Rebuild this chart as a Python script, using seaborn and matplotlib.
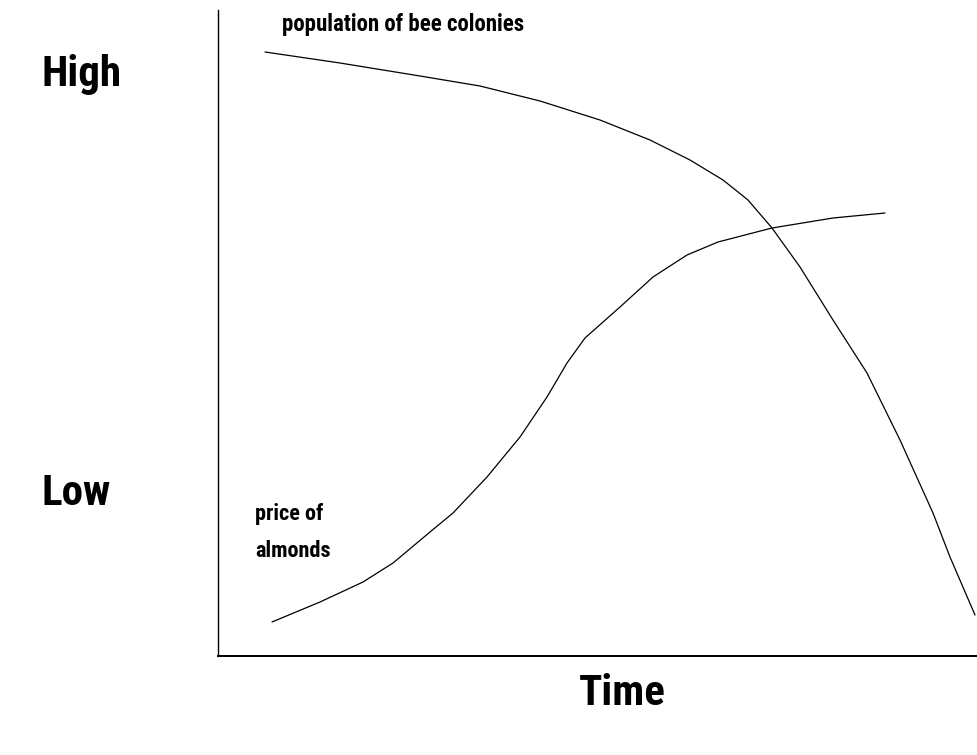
import matplotlib
matplotlib.use("Agg")
import matplotlib.pyplot as plt
from matplotlib import font_manager
import seaborn as sns
import pandas as pd

# ---- data (x = time, y = level) ----
bee_time = [47, 122, 202, 262, 322, 382, 432, 472, 505, 530, 554, 582, 615, 649, 682, 715, 732, 757]
bee_level = [604, 593, 580, 570, 555, 536, 516, 496, 476, 456, 428, 389, 336, 283, 216, 143, 99, 41]

almond_time = [54, 102, 145, 175, 212, 235, 269, 302, 329, 349, 367, 402, 435, 469, 500, 554, 615, 667]
almond_level = [34, 54, 74, 93, 124, 143, 179, 219, 259, 293, 318, 349, 379, 401, 414, 428, 438, 443]

series_labels = ["population of bee colonies", "price of\nalmonds"]
y_labels = ["High", "Low"]
x_label = "Time"

# ---- fonts ----
def pick_font(cands):
    for c in cands:
        try:
            font_manager.findfont(font_manager.FontProperties(family=c), fallback_to_default=False)
            return c
        except Exception:
            pass
    return "DejaVu Sans"

sns.set_style("white")
cond = pick_font(["Roboto Condensed", "Liberation Sans Narrow", "Open Sans Condensed", "Roboto", "Liberation Sans"])
plt.rcParams["font.family"] = [cond, "DejaVu Sans"]
plt.rcParams["text.color"] = "black"

df = pd.concat([
    pd.DataFrame({"time": bee_time, "level": bee_level, "series": "bee"}),
    pd.DataFrame({"time": almond_time, "level": almond_level, "series": "almond"}),
])

fig = plt.figure(figsize=(9.77, 7.55), dpi=100)
W, H = 977, 755
ax = fig.add_axes([218 / W, (H - 656) / H, (W - 218) / W, (656 - 10) / H])

sns.lineplot(data=df, x="time", y="level", units="series", estimator=None,
             sort=False, color="black", linewidth=0.9, ax=ax, legend=False)

ax.set_xlim(0, 759)
ax.set_ylim(0, 646)
ax.set_xticks([])
ax.set_yticks([])
ax.set_xlabel("")
ax.set_ylabel("")
for s in ["top", "right"]:
    ax.spines[s].set_visible(False)
for s in ["left", "bottom"]:
    ax.spines[s].set_color("black")
    ax.spines[s].set_linewidth(1.0)
ax.spines["bottom"].set_linewidth(1.4)

# series labels
fig.text(282 / W, 1 - 31 / H, series_labels[0], fontsize=16.5, fontweight="bold", ha="left", va="baseline")
fig.text(255 / W, 1 - 503 / H, series_labels[1], fontsize=16, fontweight="bold", ha="left", va="top",
         linespacing=1.9)

# axis words
fig.text(42 / W, 1 - 86 / H, y_labels[0], fontsize=31, fontweight="bold", ha="left", va="baseline")
fig.text(42 / W, 1 - 505 / H, y_labels[1], fontsize=31, fontweight="bold", ha="left", va="baseline")
fig.text(622 / W, 1 - 705 / H, x_label, fontsize=31, fontweight="bold", ha="center", va="baseline")

fig.savefig("out.png", dpi=100)
